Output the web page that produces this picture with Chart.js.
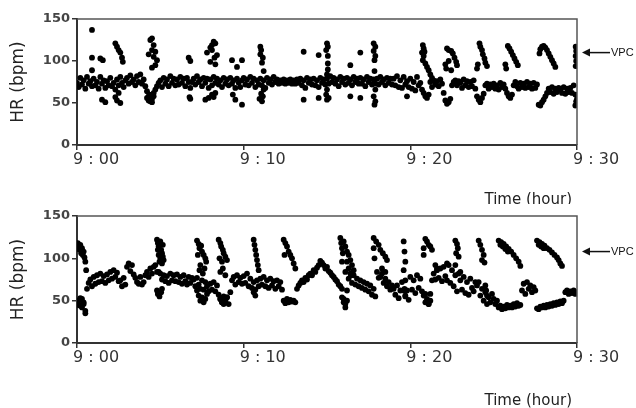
<!DOCTYPE html>
<html>
<head>
<meta charset="utf-8">
<script src="https://cdn.jsdelivr.net/npm/chart.js@4"></script>
<style>
  body { margin: 0; background: #fff; }
  canvas { display: block; }
</style>
</head>
<body>
<canvas id="topChart" width="636" height="204"></canvas>
<canvas id="bottomChart" width="636" height="204"></canvas>
<script>
// x ticks, minutes after 9:00
const tickMinutes = [0, 10, 20, 30];
const tickLabels = ['9 : 00', '9 : 10', '9 : 20', '9 : 30'];
const sampleStep = 0.1; // minutes between sinus samples

// upper panel: sinus beats, one value every 0.1 min from 9:00
const topSinusHR = [
  74,69,80,72,77,67,81,73,76,70, 79,71,75,67,81,73,77,68,76,71,
  80,70,74,66,78,71,81,74,69,77, 80,73,83,75,78,71,82,75,84,73,
  78,70,64,58,55,60,62,66,70,74, 77,69,80,73,78,70,82,74,79,71,
  78,72,81,74,79,70,80,75,68,75, 79,72,82,75,78,70,80,74,79,68,
  78,71,81,74,79,72,77,69,80,73, 78,71,80,73,77,68,79,74,69,77,
  80,72,78,71,81,74,79,69,77,72, 79,71,77,68,80,74,78,72,81,75,
  78,73,77,74,78,73,77,74,78,73, 77,73,78,74,79,71,77,68,80,74,
  78,72,79,71,77,69,80,74,78,72, 79,73,82,75,80,73,78,70,81,75,
  79,72,80,74,78,71,81,75,79,73, 80,73,78,70,81,75,79,72,78,73,
  79,72,81,75,78,71,80,74,79,72, 79,71,82,69,77,68,81,72,76,69,
  79,67,75,65,81,71,74,66,62,58, 56,60,75,69,77,72,76,70,78,73,
  62,53,49,51,55,71,75,77,71,76, 74,68,78,71,76,69,75,70,77,67,
  58,54,51,56,61,71,73,67,72,69, 73,67,71,66,74,69,72,67,62,58,
  56,60,71,75,70,67,74,69,73,68, 75,69,73,67,74,68,72,48,47,51,
  54,58,62,67,63,69,61,67,63,68, 66,62,69,61,67,63,68,62,71,60,
  55
];

// upper panel: VPC beats and scattered points [minute, HR]
const topVpc = [
  [0.9,137],[0.9,104],[0.9,89],[1.4,103],[1.55,101],[1.5,54],[1.7,51],
  [2.3,121],[2.4,117],[2.5,113],[2.6,110],[2.7,104],[2.75,99],[2.3,57],[2.4,53],[2.5,62],[2.6,50],
  [4.4,125],[4.5,127],[4.6,119],[4.5,113],[4.7,111],[4.6,105],[4.7,95],[4.5,92],[4.3,108],[4.8,101],
  [4.2,56],[4.3,53],[4.4,52],[4.5,55],[4.6,58],[4.35,60],[4.5,51],
  [6.7,104],[6.8,100],[6.75,57],[6.8,55],
  [7.8,110],[8.0,116],[8.1,119],[8.2,123],[8.3,121],[8.1,113],[8.4,107],[8.25,104],[8.0,99],[8.3,96],
  [7.7,54],[7.9,56],[8.1,60],[8.3,62],[8.2,57],
  [9.3,101],[9.6,93],[9.9,101],[9.35,60],[9.5,54],[9.9,48],
  [11.0,117],[11.05,113],[11.0,108],[11.15,104],[11.1,98],[11.2,88],[11.2,66],
  [10.95,55],[11.1,52],[11.15,58],[11.05,61],
  [13.6,111],[13.6,54],[14.5,107],[14.5,56],
  [15.0,121],[15.05,117],[14.95,113],[15.05,106],[15.05,97],[15.05,90],[15.0,84],[15.0,66],
  [14.95,60],[15.1,56],[15.0,54],
  [16.4,95],[16.4,58],[17.0,110],[17.0,56],
  [17.8,121],[17.9,117],[17.8,112],[17.9,106],[17.85,101],[17.85,88],[17.9,66],[17.8,58],[17.9,52],[17.85,48],
  [19.8,58],
  [20.75,119],[20.8,115],[20.7,110],[20.85,111],[20.8,106],[20.75,101],[20.9,97],[21.0,93],[21.1,89],[21.2,84],[21.3,80],
  [22.2,115],[22.3,113],[22.45,112],[22.55,109],[22.65,104],[22.75,99],[22.8,95],[22.1,96],[22.15,91],[22.45,89],[22.3,100],
  [24.15,121],[24.2,117],[24.3,113],[24.35,108],[24.45,103],[24.5,98],[24.6,94],[24.05,96],[24.0,91],
  [25.85,118],[25.95,115],[26.05,111],[26.15,107],[26.25,103],[26.35,99],[26.45,95],[25.7,96],[25.75,91],
  [27.75,109],[27.8,114],[27.9,117],[28.0,118],[28.1,116],[28.2,113],[28.3,109],[28.4,105],[28.5,101],[28.6,97],[28.7,93],
  [29.92,117],[29.95,112],[29.92,106],[29.95,100],[29.92,94],[29.95,52],[29.9,47]
];

// lower panel: sinus beats, one value every 0.1 min from 9:00
const bottomSinusHR = [
  50,45,53,42,48,38,64,71,75,67, 78,70,80,72,82,73,79,71,81,74,
  84,76,86,78,83,73,74,67,77,69, 90,94,85,92,81,77,72,70,78,69,
  72,80,84,78,88,82,90,92,84,84, 82,75,80,73,79,71,82,74,80,73,
  81,72,78,70,80,73,69,78,71,77, 75,67,77,69,64,74,63,72,67,61,
  70,63,72,61,68,57,52,48,55,50, 54,46,60,74,78,69,80,72,77,70,
  79,71,82,67,76,65,72,63,74,67, 76,69,78,67,74,65,76,68,73,64,
  74,67,72,63,50,47,52,48,51,49, 50,48,64,68,71,74,72,77,75,80,
  82,80,86,84,89,92,97,95,92,88, 90,85,83,80,78,75,73,69,67,64,
  52,46,62,76,82,71,80,69,76,67, 74,65,72,63,70,61,68,57,64,55,
  84,77,78,82,71,76,67,72,63,68, 64,57,68,53,62,72,62,55,62,51,
  78,63,74,59,80,65,76,61,56,48, 50,46,58,74,82,75,86,77,88,73,
  90,79,74,92,71,86,67,80,61,82, 74,63,78,59,72,57,76,65,61,72,
  68,72,56,64,50,60,46,54,48,58, 52,46,50,42,44,40,43,41,45,42,
  44,42,46,43,47,44,45,62,70,58, 72,64,68,60,66,62,41,40,43,42,
  44,42,45,43,46,44,47,45,48,46, 49,47,50,60,62,58,61,59,62,58,
  60
];

// lower panel: VPC beats and scattered points [minute, HR]
const bottomVpc = [
  [0.05,118],[0.1,114],[0.15,110],[0.2,116],[0.25,106],[0.3,112],[0.35,104],[0.4,108],[0.45,101],[0.5,96],[0.55,86],
  [0.1,50],[0.2,44],[0.3,52],[0.4,46],[0.5,35],
  [4.8,122],[4.85,118],[4.9,114],[5.0,120],[5.05,110],[5.1,106],[5.15,102],[4.95,96],[5.2,98],
  [4.9,104],[5.0,100],[4.85,110],[5.1,94],[5.15,116],
  [4.8,62],[4.85,58],[4.95,55],[5.05,60],[5.1,64],
  [7.2,121],[7.3,117],[7.35,112],[7.45,115],[7.5,108],[7.6,104],[7.7,100],[7.25,104],[7.75,96],[7.4,92],
  [7.35,86],[7.55,82],[7.65,88],
  [7.2,62],[7.3,56],[7.4,50],[7.5,54],[7.6,48],[7.7,52],[7.8,58],
  [8.5,122],[8.6,118],[8.65,114],[8.75,110],[8.8,106],[8.9,102],[8.55,100],[8.7,96],[9.0,98],
  [8.6,84],[8.75,88],[8.9,80],
  [8.6,52],[8.7,48],[8.8,46],[8.9,50],[9.0,54],
  [10.6,122],[10.65,116],[10.7,110],[10.75,104],[10.8,98],[10.85,92],[10.9,86],[10.6,60],[10.7,56],
  [12.4,122],[12.5,118],[12.6,114],[12.7,108],[12.8,104],[12.9,100],[13.0,94],[13.1,88],[12.45,104],
  [15.8,124],[15.85,118],[15.9,112],[15.95,106],[16.0,120],[16.1,114],[16.2,108],[16.3,104],[16.4,98],[16.5,92],[16.6,86],[15.9,96],
  [16.2,96],[16.3,88],[16.45,80],[16.1,84],
  [15.9,54],[16.0,48],[16.1,42],[16.2,50],
  [17.8,124],[17.95,120],[18.1,116],[18.2,110],[18.35,106],[18.5,102],[17.8,112],[17.85,100],[18.6,98],
  [18.3,88],[18.5,84],
  [19.6,120],[19.65,108],[19.7,96],[19.6,86],[19.7,74],[19.65,64],[19.7,56],
  [20.9,123],[21.0,120],[21.1,116],[21.2,114],[21.3,110],[20.8,112],[20.8,104],
  [20.9,58],[21.0,52],[21.1,46],[21.2,50],
  [21.5,92],[21.6,88],[22.2,94],[23.0,84],
  [22.7,121],[22.8,117],[22.85,112],[22.75,106],[22.9,102],[22.7,92],
  [24.1,121],[24.2,116],[24.3,110],[24.4,104],[24.3,98],[24.45,95],
  [24.5,68],[24.55,62],[24.6,56],
  [25.3,121],[25.45,119],[25.6,117],[25.75,114],[25.9,111],[26.05,108],[26.2,104],[26.35,100],[26.5,96],[26.6,91],
  [25.4,116],[25.55,114],[25.7,111],[25.85,108],
  [27.6,121],[27.75,119],[27.9,117],[28.05,115],[28.2,112],[28.35,110],[28.5,107],[28.65,104],[28.8,101],[28.9,98],[29.0,94],[29.1,91],
  [27.7,116],[27.85,114],[28.0,112]
];

const FONT = '"DejaVu Sans", sans-serif';

const annotatePlugin = {
  id: 'annotate',
  afterDatasetsDraw(chart, args, opts) {
    const ctx = chart.ctx;
    const a = chart.chartArea;
    ctx.save();
    // top and right frame
    ctx.strokeStyle = '#555';
    ctx.lineWidth = 1.5;
    ctx.beginPath();
    ctx.moveTo(a.left, a.top);
    ctx.lineTo(a.right, a.top);
    ctx.lineTo(a.right, a.bottom);
    ctx.stroke();
    // VPC arrow
    const y = chart.scales.y.getPixelForValue(opts.vpcAt);
    const x0 = a.right + 5;
    ctx.strokeStyle = '#111';
    ctx.fillStyle = '#111';
    ctx.lineWidth = 1.5;
    ctx.beginPath();
    ctx.moveTo(x0 + 6, y);
    ctx.lineTo(x0 + 28, y);
    ctx.stroke();
    ctx.beginPath();
    ctx.moveTo(x0, y);
    ctx.lineTo(x0 + 8, y - 4);
    ctx.lineTo(x0 + 8, y + 4);
    ctx.closePath();
    ctx.fill();
    ctx.font = '11px "Liberation Sans", sans-serif';
    ctx.textAlign = 'left';
    ctx.textBaseline = 'middle';
    ctx.fillText('VPC', x0 + 29, y);
    // axis title
    ctx.fillStyle = '#222';
    ctx.font = '15px ' + FONT;
    ctx.textAlign = 'right';
    ctx.fillText('Time (hour)', a.right - 5, opts.timeY);
    ctx.restore();
  }
};

function makeChart(id, sinusHR, vpc, area, vpcAt, timeY) {
  const points = sinusHR.map((hr, i) => ({ x: i * sampleStep, y: hr }))
    .concat(vpc.map(p => ({ x: p[0], y: p[1] })));
  return new Chart(document.getElementById(id), {
    type: 'scatter',
    data: {
      datasets: [{
        data: points,
        pointRadius: 2.9,
        pointBackgroundColor: '#000',
        pointBorderWidth: 0
      }]
    },
    options: {
      responsive: false,
      animation: false,
      layout: { padding: { top: area.top, right: 59, left: 0, bottom: 0 } },
      plugins: {
        legend: { display: false },
        tooltip: { enabled: false },
        annotate: { vpcAt: vpcAt, timeY: timeY }
      },
      scales: {
        x: {
          type: 'linear',
          min: 0,
          max: 30,
          afterFit: s => { s.height = 204 - area.bottom; },
          afterBuildTicks: s => { s.ticks = tickMinutes.map(v => ({ value: v })); },
          border: { color: '#333', width: 2 },
          grid: { drawOnChartArea: false, drawTicks: true, tickLength: 5, color: '#333', lineWidth: 1.5 },
          ticks: {
            align: 'start',
            labelOffset: -4,
            padding: 0,
            color: '#333',
            font: { family: FONT, size: 16 },
            callback: v => tickLabels[tickMinutes.indexOf(v)]
          }
        },
        y: {
          min: 0,
          max: 150,
          afterFit: s => { s.width = 77; },
          border: { color: '#333', width: 2 },
          grid: { drawOnChartArea: false, drawTicks: true, tickLength: 5, color: '#333', lineWidth: 1.5 },
          ticks: {
            stepSize: 50,
            padding: 2,
            color: '#444',
            font: { family: FONT, size: 13, weight: 'bold' }
          },
          title: {
            display: true,
            text: 'HR (bpm)',
            color: '#222',
            padding: { top: 8, bottom: 0 },
            font: { family: FONT, size: 17 }
          }
        }
      }
    },
    plugins: [annotatePlugin]
  });
}

makeChart('topChart', topSinusHR, topVpc, { top: 19, bottom: 145 }, 110, 200);
makeChart('bottomChart', bottomSinusHR, bottomVpc, { top: 12, bottom: 139 }, 108, 197);
</script>
</body>
</html>
